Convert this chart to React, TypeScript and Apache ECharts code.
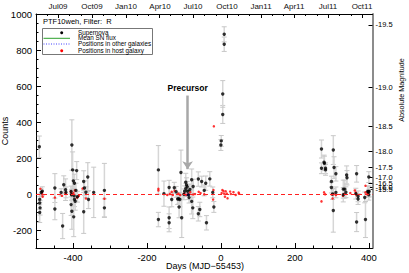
import React, { useEffect, useRef } from "react";
import * as echarts from "echarts";

// ---- Supernova light-curve (black points with grey error bars) ----
const snDay = [
  -491, -490, -490, -489, -490, -486, -483,
  -449, -449,
  -432, -428, -425, -420, -419,
  -403, -401, -399, -396, -390, -405, -404, -397, -396, -394, -405, -403, -398, -392, -388,
  -371, -360, -369, -358, -371, -365,
  -344, -315, -315,
  -169, -169, -154, -140, -140, -140, -133, -126, -121, -117, -114, -108, -111, -113, -106,
  -100, -98, -95, -93, -95, -91, -90, -88, -86, -84, -79, -75, -79, -76,
  -61, -52, -57, -61, -45, -41, -30, -39, -22, -19,
  0, 1, 5, 5, 9, 9,
  272, 279, 280, 272, 283, 283, 304, 306, 311, 299, 299, 311, 304, 302,
  331, 335, 331, 340, 341, 338,
  367, 365, 371, 371, 367, 389, 391, 400, 397, 399, 401, 400,
];
const snCount = [
  262, -30, -50, -77, -103, 8, 15,
  33, -83,
  9, -178, 51, 24, 9,
  272, 134, 73, 60, 130, 14, -4, -10, -30, -40, -59, -96, -127, 20, -15,
  69, 94, 33, -31, -99, 10,
  9, 20, -77,
  134, -142, 2, 36, -132, -160, -31, 35, 12, -28, -26, 119, -31, -72, -132,
  -2, 15, 65, 50, 30, 40, 15, -5, -20, 25, 79, 42, -41, -77,
  83, 69, -86, -110, 20, 60, 84, -160, 9, -72,
  272, 295, 442, 556, 832, 887,
  250, 176, 170, 143, 143, 134, 244, 147, 112, 69, 36, 9, -92, 0,
  27, 27, -4, 106, 90, 10,
  112, 2, -13, -28, -156, -19, -142, 94, 14, 14, 14, -4,
];
const snErr = [
  60, 30, 35, 40, 55, 20, 25,
  80, 60,
  20, 70, 50, 60, 30,
  140, 100, 60, 50, 50, 30, 30, 40, 40, 50, 60, 100, 110, 40, 30,
  60, 80, 40, 50, 120, 30,
  140, 150, 50,
  135, 40, 70, 40, 60, 50, 40, 30, 30, 30, 30, 125, 40, 60, 110,
  30, 30, 50, 40, 30, 30, 25, 25, 30, 30, 60, 40, 70, 60,
  40, 30, 40, 40, 30, 40, 40, 40, 30, 30,
  30, 30, 50, 74, 40, 42,
  50, 40, 40, 30, 30, 30, 80, 60, 40, 30, 30, 30, 120, 30,
  50, 50, 40, 50, 40, 30,
  46, 30, 30, 30, 53, 30, 100, 30, 30, 30, 30, 30,
];

// ---- Positions in host galaxy (red points) ----
const hostDay = [
  -488, -484, -483, -482, -449, -430, -420, -406, -405, -399, -395, -389, -384, -374, -365, -315,
  -169, -169, -145, -138, -133, -130, -125, -115, -110, -100, -94, -88, -83, -75, -70, -60, -55, -45, -21, -20, -19,
  2, 4, 7, 9, 11, 13, 16, 18, 25, 27, 34, 40, 48, 49,
  272, 279, 282, 300, 302, 305, 311, 330, 333, 350, 362, 365, 367, 391, 391, 395, 398,
];
const hostCount = [
  29, 11, -2, -15, -20, -10, 5, 13, -2, 5, 20, -20, -10, 30, -25, -26,
  29, 20, -5, 0, 12, -5, 18, 2, -5, 2, -5, 0, 10, -3, 0, 12, 5, -2, -31, 22, 376,
  5, 22, 16, 2, -15, 15, 2, -24, 14, 0, 10, -5, 8, 2,
  -41, 9, -2, -3, -25, 0, -5, -10, 0, 5, 20, 8, -5, 46, 9, -2, 5,
];

// ---- Positions in other galaxies (blue) and mean SN flux (green) ----
const otherDay = [-91, -87];
const otherCount = [-4, -4];
const meanDay = [-93, -84];
const meanCount = [18, 18];

// ---- Axes ----
const X_MIN = -500;
const X_MAX = 410;
const Y_MIN = -300;
const Y_MAX = 1000;
const xMajor = [-400, -200, 0, 200, 400];
const xMinor = [-450, -350, -300, -250, -150, -100, -50, 50, 100, 150, 250, 300, 350];
const yMajor = [-200, 0, 200, 400, 600, 800, 1000];
const yMinor = [-250, -150, -100, -50, 50, 100, 150, 250, 300, 350, 450, 500, 550, 650, 700, 750, 850, 900, 950];
const monthLabelDays = [-440, -348, -256, -166, -75, 17, 109, 199, 290, 382];
const monthLabels = ["Jul09", "Oct09", "Jan10", "Apr10", "Jul10", "Oct10", "Jan11", "Apr11", "Jul11", "Oct11"];
const monthTickDays = [
  -470, -409, -378, -317, -287, -225, -197, -136, -105, -44, -13, 48, 78, 140, 168, 229, 260, 321, 352,
];
const magTicks = [-19.5, -19.0, -18.5, -18.0, -17.5, -17.0, -16.5, -16.0, -15.5, -15.0];
const MAG_REF = -19.5;
const MAG_REF_COUNTS = 940;

const FONT = "Liberation Sans, Arial, Helvetica, sans-serif";

export default function App() {
  const ref = useRef<HTMLDivElement>(null);
  useEffect(() => {
    if (!ref.current) return;
    const chart = echarts.init(ref.current, null, { renderer: "svg" });

    const errData = snDay.map((d, i) => [d, snCount[i] - snErr[i], snCount[i] + snErr[i]]);
    const snData = snDay.map((d, i) => [d, snCount[i]]);
    const hostData = hostDay.map((d, i) => [d, hostCount[i]]);
    const otherData = otherDay.map((d, i) => [d, otherCount[i]]);
    const meanData = meanDay.map((d, i) => [d, meanCount[i]]);
    const magCounts = magTicks.map((m) => MAG_REF_COUNTS * Math.pow(10, -0.4 * (m - MAG_REF)));

    const baseAxis = {
      splitLine: { show: false },
      axisPointer: { show: false },
    };

    chart.setOption({
      animation: false,
      textStyle: { fontFamily: FONT, color: "#000000" },
      grid: { left: 36, right: 36.5, top: 14, bottom: 25, containLabel: false },
      xAxis: [
        {
          ...baseAxis,
          type: "value",
          position: "bottom",
          min: X_MIN,
          max: X_MAX,
          axisLine: { show: true, onZero: false, lineStyle: { color: "#000", width: 1 } },
          axisTick: { show: true, inside: true, length: 5, customValues: xMajor, lineStyle: { color: "#000" } },
          axisLabel: {
            show: true,
            customValues: xMajor,
            margin: 4,
            fontSize: 9.5,
            color: "#000000",
            fontFamily: FONT,
            formatter: (v: number) => String(v),
          },
        },
        {
          ...baseAxis,
          type: "value",
          position: "bottom",
          min: X_MIN,
          max: X_MAX,
          axisLine: { show: false, onZero: false },
          axisTick: { show: true, inside: true, length: 2.5, customValues: xMinor, lineStyle: { color: "#000" } },
          axisLabel: { show: false },
        },
        {
          ...baseAxis,
          type: "value",
          position: "top",
          min: X_MIN,
          max: X_MAX,
          axisLine: { show: true, onZero: false, lineStyle: { color: "#000", width: 1 } },
          axisTick: { show: true, inside: true, length: 4, customValues: monthLabelDays, lineStyle: { color: "#000" } },
          axisLabel: { show: false },
        },
        {
          ...baseAxis,
          type: "value",
          position: "top",
          min: X_MIN,
          max: X_MAX,
          axisLine: { show: false, onZero: false },
          axisTick: { show: true, inside: true, length: 2, customValues: monthTickDays, lineStyle: { color: "#000" } },
          axisLabel: { show: false },
        },
      ],
      yAxis: [
        {
          ...baseAxis,
          type: "value",
          position: "left",
          min: Y_MIN,
          max: Y_MAX,
          axisLine: { show: true, onZero: false, lineStyle: { color: "#000", width: 1 } },
          axisTick: { show: true, inside: true, length: 5, customValues: yMajor, lineStyle: { color: "#000" } },
          axisLabel: {
            show: true,
            customValues: yMajor,
            margin: 4,
            fontSize: 9.5,
            color: "#000000",
            fontFamily: FONT,
            formatter: (v: number) => String(v),
          },
        },
        {
          ...baseAxis,
          type: "value",
          position: "left",
          min: Y_MIN,
          max: Y_MAX,
          axisLine: { show: false, onZero: false },
          axisTick: { show: true, inside: true, length: 2.5, customValues: yMinor, lineStyle: { color: "#000" } },
          axisLabel: { show: false },
        },
        {
          ...baseAxis,
          type: "value",
          position: "right",
          min: Y_MIN,
          max: Y_MAX,
          axisLine: { show: true, onZero: false, lineStyle: { color: "#8c8c8c", width: 2 } },
          axisTick: { show: true, inside: true, length: 4, customValues: magCounts, lineStyle: { color: "#000" } },
          axisLabel: {
            show: true,
            customValues: magCounts,
            margin: 3,
            fontSize: 7.5,
            color: "#000000",
            fontFamily: FONT,
            formatter: (v: number) => (MAG_REF - 2.5 * Math.log10(v / MAG_REF_COUNTS)).toFixed(1),
          },
        },
      ],
      graphic: [
        {
          type: "text",
          left: 43,
          top: 17.5,
          style: { text: "PTF10weh, Filter:  R", fontSize: 7.5, fill: "#000", fontFamily: FONT },
        },
        {
          type: "rect",
          shape: { x: 42.5, y: 28.5, width: 110, height: 26 },
          style: { fill: "#fff", stroke: "#777", lineWidth: 1 },
          z: 10,
        },
        { type: "circle", shape: { cx: 61.7, cy: 32.7, r: 1.5 }, style: { fill: "#000" }, z: 11 },
        {
          type: "line",
          shape: { x1: 43.5, y1: 38.3, x2: 70, y2: 38.3 },
          style: { stroke: "#2ca02c", lineWidth: 1 },
          z: 11,
        },
        {
          type: "line",
          shape: { x1: 43.5, y1: 44, x2: 70, y2: 44 },
          style: { stroke: "#4040ff", lineWidth: 1, lineDash: [1, 1.5] },
          z: 11,
        },
        { type: "circle", shape: { cx: 61.7, cy: 50.7, r: 1.5 }, style: { fill: "#ff0000" }, z: 11 },
        {
          type: "text",
          x: 78,
          y: 32,
          style: { text: "Supernova", fontSize: 6.3, fill: "#000", fontFamily: FONT, verticalAlign: "middle" },
          z: 11,
        },
        {
          type: "text",
          x: 78,
          y: 37.7,
          style: { text: "Mean SN flux", fontSize: 6.3, fill: "#000", fontFamily: FONT, verticalAlign: "middle" },
          z: 11,
        },
        {
          type: "text",
          x: 78,
          y: 43.3,
          style: { text: "Positions in other galaxies", fontSize: 6.3, fill: "#000", fontFamily: FONT, verticalAlign: "middle" },
          z: 11,
        },
        {
          type: "text",
          x: 78,
          y: 50,
          style: { text: "Positions in host galaxy", fontSize: 6.3, fill: "#000", fontFamily: FONT, verticalAlign: "middle" },
          z: 11,
        },
        {
          type: "text",
          x: 5,
          y: 131,
          rotation: Math.PI / 2,
          style: { text: "Counts", fontSize: 9, fill: "#000", fontFamily: FONT, align: "center", verticalAlign: "middle" },
        },
        {
          type: "text",
          x: 205,
          y: 266,
          style: { text: "Days (MJD\u221255453)", fontSize: 9, fill: "#000", fontFamily: FONT, align: "center", verticalAlign: "middle" },
        },
        {
          type: "text",
          x: 401.5,
          y: 90,
          rotation: Math.PI / 2,
          style: { text: "Absolute Magnitude", fontSize: 7.2, fill: "#000", fontFamily: FONT, align: "center", verticalAlign: "middle" },
        },
      ],
      series: [
        {
          type: "custom",
          name: "errors",
          xAxisIndex: 0,
          yAxisIndex: 0,
          data: errData,
          z: 1,
          renderItem: (params: any, api: any) => {
            const x = api.value(0);
            const lo = api.coord([x, api.value(1)]);
            const hi = api.coord([x, api.value(2)]);
            const cap = 2.5;
            return {
              type: "group",
              children: [
                { type: "line", shape: { x1: lo[0], y1: lo[1], x2: hi[0], y2: hi[1] }, style: { stroke: "#d6d6d6", lineWidth: 1.5 } },
                { type: "line", shape: { x1: lo[0] - cap, y1: lo[1], x2: lo[0] + cap, y2: lo[1] }, style: { stroke: "#c8c8c8", lineWidth: 1 } },
                { type: "line", shape: { x1: hi[0] - cap, y1: hi[1], x2: hi[0] + cap, y2: hi[1] }, style: { stroke: "#c8c8c8", lineWidth: 1 } },
              ],
            };
          },
        },
        {
          type: "line",
          name: "Mean SN flux",
          xAxisIndex: 0,
          yAxisIndex: 0,
          data: meanData,
          symbol: "none",
          lineStyle: { color: "#2ca02c", width: 1 },
          z: 3,
        },
        {
          type: "scatter",
          name: "Positions in host galaxy",
          xAxisIndex: 0,
          yAxisIndex: 0,
          data: hostData,
          symbol: "circle",
          symbolSize: 2.5,
          itemStyle: { color: "#ff0000" },
          z: 3,
          markLine: {
            silent: true,
            symbol: ["none", "none"],
            label: { show: false },
            lineStyle: { color: "#ff2020", type: [4, 3], width: 1 },
            data: [{ yAxis: 0 }],
          },
        },
        {
          type: "scatter",
          name: "Positions in other galaxies",
          xAxisIndex: 0,
          yAxisIndex: 0,
          data: otherData,
          symbol: "circle",
          symbolSize: 2.2,
          itemStyle: { color: "#2020ff" },
          z: 3,
        },
        {
          type: "scatter",
          name: "Supernova",
          xAxisIndex: 0,
          yAxisIndex: 0,
          data: snData,
          symbol: "circle",
          symbolSize: 3.4,
          itemStyle: { color: "#000" },
          z: 4,
          markLine: {
            silent: true,
            symbol: ["none", "arrow"],
            symbolSize: 8,
            lineStyle: { color: "#a8a8a8", width: 2.5, type: "solid" },
            label: {
              show: true,
              position: "start",
              formatter: "Precursor",
              fontSize: 8.5,
              fontWeight: "bold",
              color: "#000",
              fontFamily: FONT,
              distance: 3,
            },
            data: [[{ coord: [-90, 547] }, { coord: [-90, 138] }]],
          },
        },
      ],
    });

    // Top month labels, placed through the top axis scale
    const topLabels = monthLabelDays.map((d, i) => {
      const px = chart.convertToPixel({ xAxisIndex: 2 }, d) as number;
      return {
        type: "text",
        id: "month-" + i,
        x: Math.round(px),
        y: 2,
        z: 20,
        style: {
          text: monthLabels[i],
          fontSize: 8,
          fill: "#111111",
          fontFamily: FONT,
          align: "center",
          verticalAlign: "top",
        },
      };
    });
    chart.setOption({ graphic: topLabels });

    return () => chart.dispose();
  }, []);
  return <div ref={ref} style={{ position: "absolute", left: 0, top: 0, width: 409, height: 273 }} />;
}
